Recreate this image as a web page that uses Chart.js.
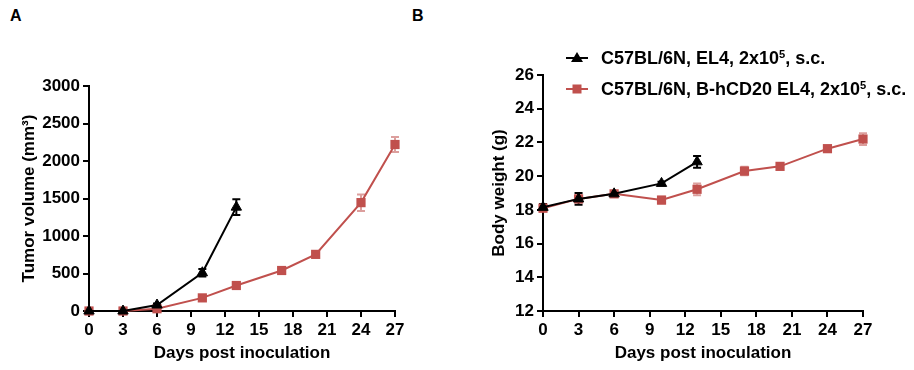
<!DOCTYPE html>
<html>
<head>
<meta charset="utf-8">
<script src="https://cdn.jsdelivr.net/npm/chart.js@4.4.1/dist/chart.umd.min.js"></script>
<style>
  body { margin: 0; background: #fff; width: 914px; height: 370px; position: relative; overflow: hidden;
         font-family: "Liberation Sans", Arial, sans-serif; font-weight: bold; }
  canvas { position: absolute; top: 0; }
  #chartA { left: 0; }
  #chartB { left: 460px; }
  .panel { position: absolute; font-size: 16px; }
  .legend { position: absolute; left: 564px; font-size: 18px; white-space: nowrap; }
  .legend svg { position: absolute; left: 0; top: 0; }
  .legend span { position: absolute; left: 37px; top: 0; line-height: 20px; }
  .legend sup { font-size: 0.62em; vertical-align: 0.55em; line-height: 0; }
</style>
</head>
<body>
<div class="panel" style="left:10px; top:7px;">A</div>
<div class="panel" style="left:412px; top:7px;">B</div>
<canvas id="chartA" width="460" height="370"></canvas>
<canvas id="chartB" width="454" height="370"></canvas>
<div class="legend" style="top:48px;">
  <svg width="26" height="20"><line x1="2" y1="10" x2="24" y2="10" stroke="#000" stroke-width="2"/><polygon points="13,4 19,14 7,14" fill="#000"/></svg>
  <span>C57BL/6N, EL4, 2x10<sup>5</sup>, s.c.</span>
</div>
<div class="legend" style="top:79px;">
  <svg width="26" height="20"><line x1="2" y1="10" x2="24" y2="10" stroke="#c0504d" stroke-width="2"/><rect x="8.5" y="5.5" width="9" height="9" fill="#c0504d"/></svg>
  <span>C57BL/6N, B-hCD20 EL4, 2x10<sup>5</sup>, s.c.</span>
</div>
<script>
const daysBlack = [0, 3, 6, 10, 13];
const daysRed = [0, 3, 6, 10, 13, 17, 20, 24, 27];
const dayTicks = [0, 3, 6, 9, 12, 15, 18, 21, 24, 27];

const tumorBlack = [0, 0, 80, 510, 1385];
const tumorBlackSem = [0, 0, 20, 50, 105];
const tumorRed = [0, 0, 30, 175, 340, 540, 755, 1445, 2220];
const tumorRedSem = [0, 0, 10, 20, 25, 25, 30, 110, 100];

const weightBlack = [18.15, 18.65, 18.95, 19.57, 20.85];
const weightBlackSem = [0.2, 0.35, 0.1, 0.1, 0.35];
const weightRed = [18.1, 18.65, 18.95, 18.58, 19.22, 20.3, 20.58, 21.63, 22.2];
const weightRedSem = [0.2, 0.2, 0.1, 0.2, 0.35, 0.25, 0.15, 0.1, 0.35];

const blackLabel = 'C57BL/6N, EL4, 2x10⁵, s.c.';
const redLabel = 'C57BL/6N, B-hCD20 EL4, 2x10⁵, s.c.';

const RED = '#c0504d';
const font = { family: '"Liberation Sans", Arial, sans-serif', weight: 'bold', size: 17 };

function toPoints(xs, ys) {
    return xs.map((x, i) => ({ x: x, y: ys[i] }));
}

// draws mean +/- sem whiskers under the markers
const errorBars = {
    id: 'errorBars',
    beforeDatasetsDraw(chart) {
        const ctx = chart.ctx;
        const xs = chart.scales.x, ys = chart.scales.y;
        chart.data.datasets.forEach(ds => {
            if (!ds.sem) return;
            ctx.save();
            ctx.strokeStyle = ds.semColor;
            ctx.lineWidth = 2;
            ds.data.forEach((p, i) => {
                const e = ds.sem[i];
                if (!e) return;
                const px = xs.getPixelForValue(p.x);
                const top = ys.getPixelForValue(p.y + e);
                const bot = ys.getPixelForValue(p.y - e);
                ctx.beginPath();
                ctx.moveTo(px, top); ctx.lineTo(px, bot);
                ctx.moveTo(px - 4, top); ctx.lineTo(px + 4, top);
                ctx.moveTo(px - 4, bot); ctx.lineTo(px + 4, bot);
                ctx.stroke();
            });
            ctx.restore();
        });
    }
};

function makeChart(id, blackY, blackSem, redY, redSem, yOpts, pad, yWidth, yTitle) {
    const ctx = document.getElementById(id).getContext('2d');
    return new Chart(ctx, {
        type: 'line',
        data: {
            datasets: [
                {
                    label: blackLabel,
                    data: toPoints(daysBlack, blackY),
                    sem: blackSem,
                    semColor: '#000',
                    borderColor: '#000',
                    backgroundColor: '#000',
                    borderWidth: 2,
                    pointStyle: 'triangle',
                    pointRadius: 6,
                    pointBorderWidth: 1,
                    tension: 0,
                    clip: false
                },
                {
                    label: redLabel,
                    data: toPoints(daysRed, redY),
                    sem: redSem,
                    semColor: 'rgba(192, 80, 77, 0.55)',
                    borderColor: RED,
                    backgroundColor: RED,
                    borderWidth: 2,
                    pointStyle: 'rect',
                    pointRadius: 6.5,
                    pointBorderWidth: 0,
                    tension: 0,
                    clip: false
                }
            ]
        },
        options: {
            responsive: false,
            animation: false,
            layout: { padding: pad },
            plugins: { legend: { display: false }, tooltip: { enabled: false } },
            scales: {
                x: {
                    type: 'linear',
                    min: 0,
                    max: 27,
                    afterBuildTicks: s => { s.ticks = dayTicks.map(v => ({ value: v })); },
                    afterFit: s => { s.height = 59; },
                    border: { color: '#000', width: 2 },
                    grid: { drawOnChartArea: false, color: '#000', lineWidth: 2, tickLength: 6 },
                    ticks: { color: '#000', font: font, padding: 3, maxRotation: 0, callback: v => String(v) },
                    title: { display: true, text: 'Days post inoculation', color: '#000', font: font, padding: { top: 2, bottom: 6 } }
                },
                y: Object.assign({
                    afterFit: s => { s.width = yWidth; },
                    border: { color: '#000', width: 2 },
                    grid: { drawOnChartArea: false, color: '#000', lineWidth: 2, tickLength: 6 },
                    title: { display: true, text: yTitle, color: '#000', font: font, padding: { top: 0, bottom: 4 } }
                }, yOpts)
            }
        },
        plugins: [errorBars]
    });
}

makeChart('chartA', tumorBlack, tumorBlackSem, tumorRed, tumorRedSem,
    { min: 0, max: 3000, ticks: { stepSize: 500, color: '#000', font: font, padding: 3, callback: v => String(v) } },
    { top: 86, right: 65, left: 19, bottom: 0 }, 70, 'Tumor volume (mm³)');

makeChart('chartB', weightBlack, weightBlackSem, weightRed, weightRedSem,
    { min: 12, max: 26, ticks: { stepSize: 2, color: '#000', font: font, padding: 3, callback: v => String(v) } },
    { top: 75, right: 51, left: 29, bottom: 0 }, 54, 'Body weight (g)');
</script>
</body>
</html>
